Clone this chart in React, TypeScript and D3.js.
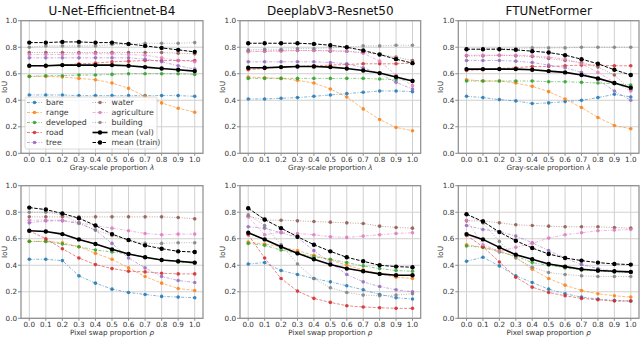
import * as d3 from "d3";

// classes, in legend order
const categories = ["bare", "range", "developed", "road", "tree", "water", "agriculture", "building", "mean (val)", "mean (train)"];
const colors = ["#1f77b4", "#ff7f0e", "#2ca02c", "#d62728", "#9467bd", "#8c564b", "#e377c2", "#7f7f7f", "#000000", "#000000"];
const dashes = ["3,1.5,1,1.5", "3,1.5", "3,1.5,1,1.5", "3,1.5", "3,1.5,1,1.5", "1,1.5", "3,1.5,1,1.5", "1,1.5", null, "3.5,1.5"];

const proportions = [0, 0.1, 0.2, 0.3, 0.4, 0.5, 0.6, 0.7, 0.8, 0.9, 1.0];
const yTicks = [0, 0.2, 0.4, 0.6, 0.8, 1.0];
const models = ["U-Net-Efficientnet-B4", "DeeplabV3-Resnet50", "FTUNetFormer"];

// rows follow categories order
const unetGray = [
  [0.44, 0.44, 0.44, 0.435, 0.435, 0.435, 0.435, 0.435, 0.435, 0.435, 0.43],
  [0.58, 0.58, 0.575, 0.565, 0.555, 0.53, 0.49, 0.43, 0.38, 0.34, 0.31],
  [0.58, 0.585, 0.585, 0.59, 0.59, 0.595, 0.6, 0.6, 0.6, 0.6, 0.595],
  [0.66, 0.66, 0.665, 0.675, 0.68, 0.69, 0.695, 0.7, 0.7, 0.7, 0.7],
  [0.72, 0.72, 0.72, 0.72, 0.72, 0.72, 0.72, 0.71, 0.69, 0.66, 0.635],
  [0.76, 0.76, 0.76, 0.76, 0.76, 0.76, 0.76, 0.76, 0.76, 0.755, 0.75],
  [0.745, 0.745, 0.745, 0.75, 0.75, 0.75, 0.745, 0.74, 0.72, 0.7, 0.69],
  [0.8, 0.81, 0.81, 0.81, 0.81, 0.82, 0.82, 0.83, 0.83, 0.83, 0.835],
  [0.66, 0.66, 0.665, 0.665, 0.665, 0.665, 0.66, 0.65, 0.64, 0.63, 0.62],
  [0.835, 0.835, 0.84, 0.84, 0.835, 0.835, 0.825, 0.81, 0.795, 0.78, 0.765],
];
const deeplabGray = [
  [0.41, 0.41, 0.415, 0.42, 0.43, 0.44, 0.45, 0.46, 0.47, 0.47, 0.465],
  [0.575, 0.57, 0.565, 0.55, 0.53, 0.485, 0.425, 0.335, 0.255, 0.195, 0.17],
  [0.565, 0.565, 0.565, 0.565, 0.565, 0.565, 0.565, 0.565, 0.56, 0.555, 0.55],
  [0.63, 0.64, 0.65, 0.655, 0.66, 0.665, 0.67, 0.675, 0.675, 0.675, 0.68],
  [0.69, 0.69, 0.69, 0.69, 0.69, 0.685, 0.675, 0.645, 0.6, 0.535, 0.485],
  [0.77, 0.77, 0.775, 0.775, 0.775, 0.77, 0.77, 0.76, 0.745, 0.725, 0.7],
  [0.765, 0.77, 0.77, 0.775, 0.775, 0.775, 0.77, 0.755, 0.695, 0.59, 0.51],
  [0.78, 0.785, 0.785, 0.79, 0.79, 0.795, 0.8, 0.81, 0.81, 0.815, 0.815],
  [0.645, 0.645, 0.65, 0.655, 0.655, 0.65, 0.64, 0.625, 0.605, 0.575, 0.545],
  [0.83, 0.83, 0.83, 0.83, 0.825, 0.815, 0.8, 0.775, 0.745, 0.71, 0.68],
];
const ftuGray = [
  [0.43, 0.42, 0.405, 0.395, 0.375, 0.38, 0.39, 0.4, 0.42, 0.445, 0.425],
  [0.555, 0.545, 0.545, 0.53, 0.505, 0.465, 0.41, 0.345, 0.27, 0.21, 0.185],
  [0.545, 0.545, 0.545, 0.545, 0.545, 0.54, 0.54, 0.535, 0.53, 0.525, 0.515],
  [0.625, 0.63, 0.64, 0.645, 0.655, 0.655, 0.66, 0.665, 0.665, 0.66, 0.66],
  [0.7, 0.7, 0.7, 0.695, 0.685, 0.665, 0.645, 0.61, 0.555, 0.47, 0.4],
  [0.735, 0.735, 0.74, 0.735, 0.73, 0.715, 0.7, 0.685, 0.65, 0.59, 0.48],
  [0.74, 0.74, 0.74, 0.74, 0.735, 0.725, 0.71, 0.675, 0.61, 0.535, 0.47],
  [0.785, 0.785, 0.79, 0.79, 0.795, 0.795, 0.795, 0.8, 0.8, 0.8, 0.8],
  [0.635, 0.635, 0.635, 0.635, 0.63, 0.62, 0.61, 0.59, 0.565, 0.53, 0.495],
  [0.785, 0.785, 0.785, 0.78, 0.77, 0.76, 0.74, 0.71, 0.675, 0.63, 0.59],
];
const unetSwap = [
  [0.445, 0.445, 0.435, 0.32, 0.265, 0.22, 0.195, 0.18, 0.165, 0.16, 0.155],
  [0.58, 0.58, 0.57, 0.54, 0.49, 0.445, 0.38, 0.315, 0.265, 0.225, 0.21],
  [0.58, 0.58, 0.56, 0.54, 0.515, 0.5, 0.485, 0.46, 0.44, 0.425, 0.415],
  [0.66, 0.6, 0.525, 0.455, 0.405, 0.375, 0.355, 0.35, 0.34, 0.335, 0.335],
  [0.72, 0.735, 0.735, 0.715, 0.665, 0.565, 0.455, 0.38, 0.315, 0.285, 0.27],
  [0.765, 0.765, 0.765, 0.765, 0.765, 0.765, 0.765, 0.765, 0.765, 0.76, 0.75],
  [0.74, 0.74, 0.74, 0.72, 0.7, 0.68, 0.66, 0.64, 0.63, 0.635, 0.635],
  [0.8, 0.8, 0.78, 0.72, 0.665, 0.625, 0.59, 0.565, 0.565, 0.57, 0.57],
  [0.66, 0.655, 0.635, 0.595, 0.56, 0.52, 0.485, 0.46, 0.44, 0.43, 0.42],
  [0.835, 0.82, 0.79, 0.755, 0.7, 0.635, 0.59, 0.55, 0.525, 0.505, 0.5],
];
const deeplabSwap = [
  [0.41, 0.42, 0.36, 0.33, 0.3, 0.275, 0.245, 0.215, 0.18, 0.155, 0.145],
  [0.575, 0.56, 0.54, 0.51, 0.475, 0.44, 0.4, 0.365, 0.335, 0.31, 0.3],
  [0.565, 0.55, 0.515, 0.49, 0.465, 0.445, 0.42, 0.395, 0.375, 0.36, 0.355],
  [0.63, 0.455, 0.3, 0.205, 0.15, 0.12, 0.095, 0.085, 0.08, 0.075, 0.075],
  [0.69, 0.68, 0.645, 0.61, 0.51, 0.42, 0.33, 0.275, 0.24, 0.215, 0.2],
  [0.77, 0.74, 0.74, 0.735, 0.73, 0.725, 0.72, 0.715, 0.695, 0.685, 0.68],
  [0.765, 0.63, 0.65, 0.64, 0.63, 0.615, 0.61, 0.62, 0.63, 0.64, 0.645],
  [0.78, 0.7, 0.555, 0.41, 0.3, 0.23, 0.195, 0.175, 0.17, 0.175, 0.185],
  [0.645, 0.595, 0.54, 0.49, 0.445, 0.405, 0.375, 0.355, 0.335, 0.325, 0.325],
  [0.83, 0.745, 0.68, 0.615, 0.555, 0.505, 0.46, 0.43, 0.4, 0.39, 0.385],
];
const ftuSwap = [
  [0.43, 0.46, 0.395, 0.32, 0.27, 0.22, 0.185, 0.16, 0.145, 0.135, 0.13],
  [0.555, 0.535, 0.51, 0.46, 0.37, 0.3, 0.25, 0.21, 0.185, 0.17, 0.16],
  [0.545, 0.535, 0.5, 0.47, 0.42, 0.4, 0.38, 0.365, 0.355, 0.35, 0.345],
  [0.625, 0.54, 0.425, 0.31, 0.235, 0.195, 0.17, 0.15, 0.14, 0.13, 0.13],
  [0.7, 0.67, 0.655, 0.62, 0.57, 0.51, 0.455, 0.405, 0.375, 0.355, 0.35],
  [0.735, 0.735, 0.72, 0.705, 0.7, 0.695, 0.69, 0.69, 0.69, 0.685, 0.68],
  [0.74, 0.555, 0.505, 0.535, 0.565, 0.605, 0.63, 0.645, 0.66, 0.665, 0.67],
  [0.785, 0.72, 0.58, 0.455, 0.385, 0.345, 0.33, 0.32, 0.315, 0.315, 0.315],
  [0.635, 0.595, 0.535, 0.48, 0.445, 0.41, 0.39, 0.37, 0.36, 0.355, 0.35],
  [0.785, 0.73, 0.65, 0.585, 0.53, 0.485, 0.455, 0.435, 0.42, 0.41, 0.405],
];

const panels = [
  [unetGray, deeplabGray, ftuGray],
  [unetSwap, deeplabSwap, ftuSwap],
];

const W = 640, H = 337;
const cols = [{ l: 21, r: 203 }, { l: 240, r: 420.7 }, { l: 458.3, r: 639 }];
const rows = [{ t: 20.7, b: 153.3 }, { t: 185.7, b: 318.3 }];
const font = "DejaVu Sans, sans-serif";
const isMean = (i: number) => i >= 8;

const Panel = ({ data, ci, ri }: { data: number[][]; ci: number; ri: number }) => {
  const { l, r } = cols[ci];
  const { t, b } = rows[ri];
  const x = d3.scaleLinear().domain([-0.05, 1.05]).range([l, r]);
  const y = d3.scaleLinear().domain([0, 1]).range([b, t]);
  const line = d3.line<number>().x((_, i) => x(proportions[i])).y((d) => y(d));

  return (
    <g>
      {proportions.map((p) => (
        <line key={"gx" + p} x1={x(p)} x2={x(p)} y1={t} y2={b} stroke="#d0d0d0" strokeWidth={1} />
      ))}
      {yTicks.map((v) => (
        <line key={"gy" + v} x1={l} x2={r} y1={y(v)} y2={y(v)} stroke="#d0d0d0" strokeWidth={1} />
      ))}
      {data.map((s, i) => (
        <g key={categories[i]}>
          <path
            d={line(s) || ""}
            fill="none"
            stroke={colors[i]}
            strokeWidth={i === 8 ? 1.6 : 1}
            strokeOpacity={isMean(i) ? 1 : 0.55}
            strokeDasharray={dashes[i] || undefined}
          />
          {s.map((v, j) => (
            <circle key={j} cx={x(proportions[j])} cy={y(v)} r={isMean(i) ? 2.2 : 1.8} fill={colors[i]} fillOpacity={isMean(i) ? 1 : 0.85} />
          ))}
        </g>
      ))}
      <rect x={l} y={t} width={r - l} height={b - t} fill="none" stroke="#8c8c8c" strokeWidth={1.2} />
      {proportions.map((p) => (
        <g key={"tx" + p}>
          <line x1={x(p)} x2={x(p)} y1={b} y2={b + 2.5} stroke="#8c8c8c" />
          <text x={x(p)} y={b + 8.6} fontSize={7.2} textAnchor="middle" fontFamily={font} fill="#333">{p.toFixed(1)}</text>
        </g>
      ))}
      {yTicks.map((v) => (
        <g key={"ty" + v}>
          <line x1={l - 3} x2={l} y1={y(v)} y2={y(v)} stroke="#8c8c8c" />
          <text x={l - 4} y={y(v) + 2.6} fontSize={7.2} textAnchor="end" fontFamily={font} fill="#333">{v.toFixed(1)}</text>
        </g>
      ))}
      <text
        transform={`translate(${Math.max(l - 15, 7)},${(t + b) / 2}) rotate(-90)`}
        fontSize={7.4}
        textAnchor="middle"
        fontFamily={font}
        fill="#333"
      >IoU</text>
      <text x={(l + r) / 2} y={b + 17} fontSize={7.2} textAnchor="middle" fontFamily={font} fill="#333">
        {ri === 0 ? "Gray-scale proportion " : "Pixel swap proportion "}
        <tspan fontStyle="italic">{ri === 0 ? "λ" : "ρ"}</tspan>
      </text>
      {ri === 0 && (
        <text x={(l + r) / 2} y={t - 6} fontSize={12} textAnchor="middle" fontFamily={font} fill="#111">{models[ci]}</text>
      )}
    </g>
  );
};

const Legend = () => {
  const x0 = 25, y0 = 97, w = 132, h = 52;
  return (
    <g>
      <rect x={x0} y={y0} width={w} height={h} rx={2} fill="#fff" fillOpacity={0.8} stroke="#d0d0d0" strokeWidth={0.8} />
      {categories.map((c, i) => {
        const col = i < 5 ? 0 : 1;
        const row = i % 5;
        const hx = col === 0 ? 27 : 92.5;
        const yy = y0 + 5.5 + row * 10;
        return (
          <g key={c}>
            <line
              x1={hx} x2={hx + 15} y1={yy} y2={yy}
              stroke={colors[i]}
              strokeWidth={i === 8 ? 1.6 : 1}
              strokeOpacity={isMean(i) ? 1 : 0.55}
              strokeDasharray={dashes[i] || undefined}
            />
            <circle cx={hx + 7.5} cy={yy} r={isMean(i) ? 2.2 : 1.8} fill={colors[i]} fillOpacity={isMean(i) ? 1 : 0.85} />
            <text x={hx + 19} y={yy + 2.8} fontSize={7.8} fontFamily={font} fill="#333">{c}</text>
          </g>
        );
      })}
    </g>
  );
};

export default function App() {
  return (
    <svg width={W} height={H} style={{ position: "absolute", left: 0, top: 0, background: "#fff" }}>
      {panels.map((rowData, ri) =>
        rowData.map((data, ci) => <Panel key={ri + "-" + ci} data={data} ci={ci} ri={ri} />)
      )}
      <Legend />
    </svg>
  );
}
